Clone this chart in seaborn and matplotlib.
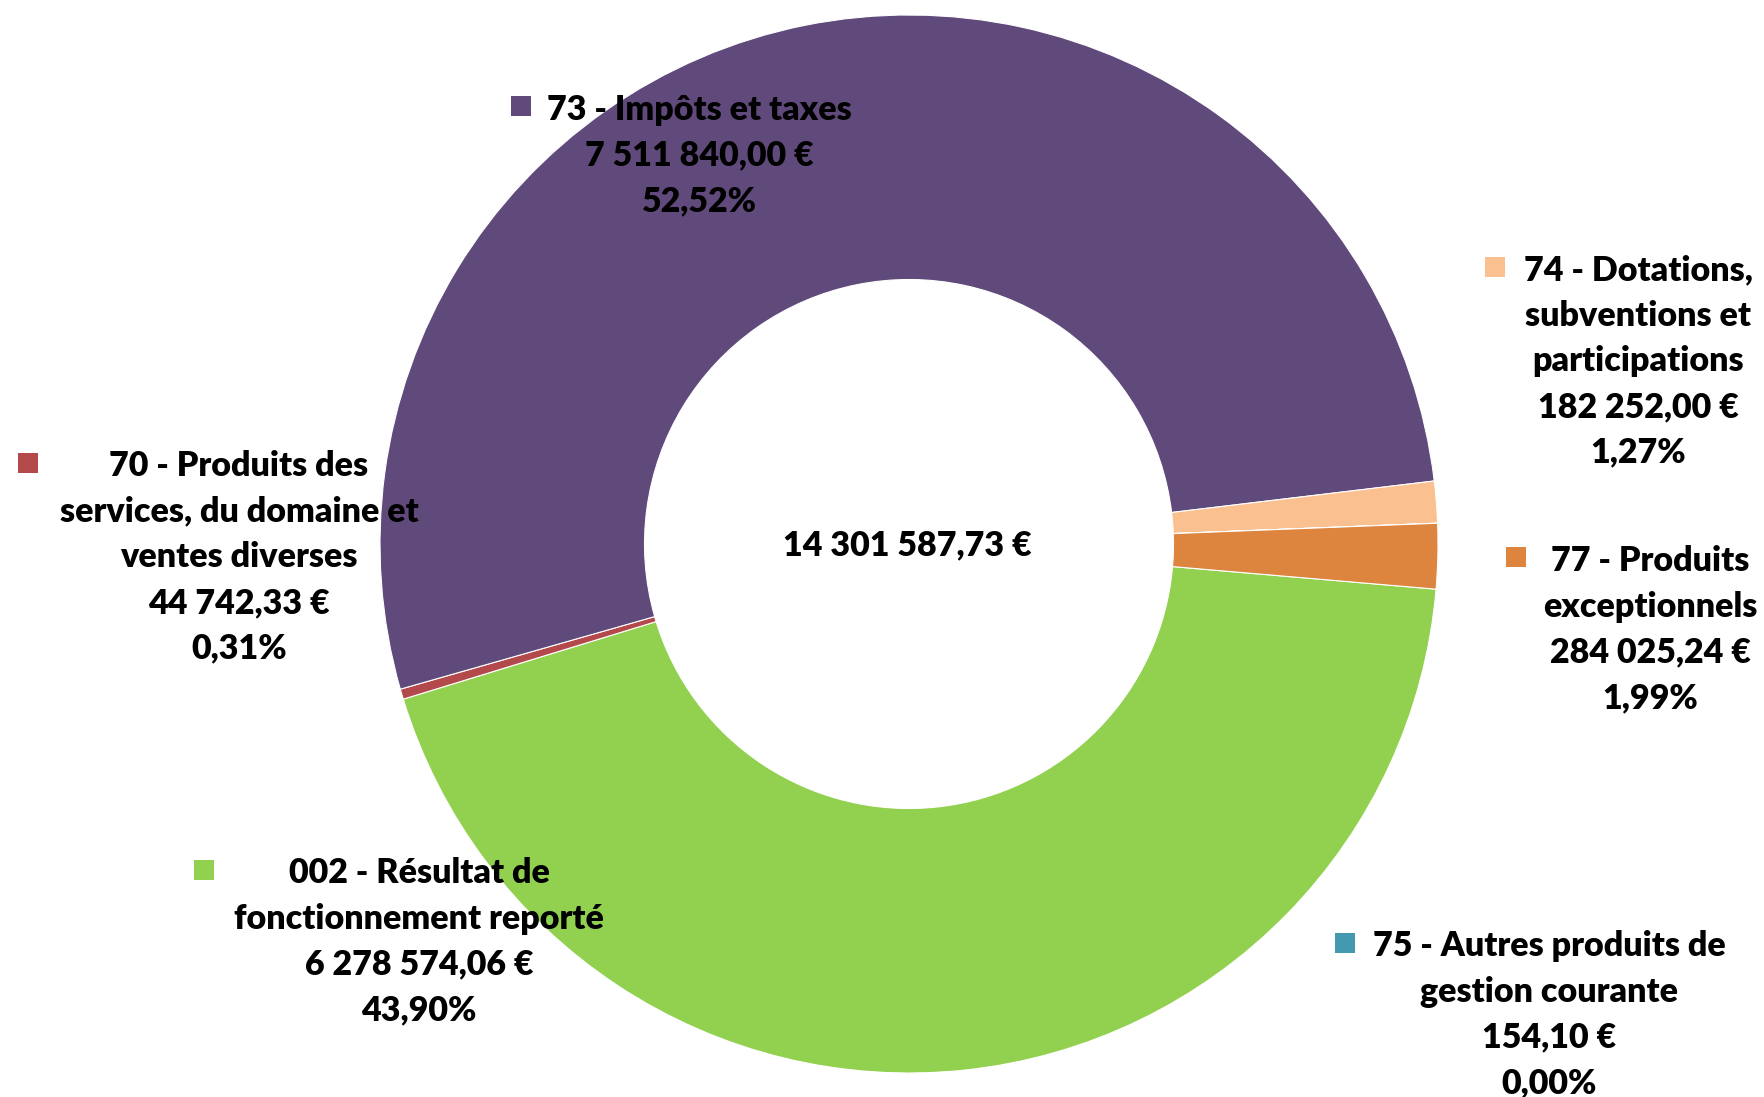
import seaborn as sns
import matplotlib.pyplot as plt

# Données (recettes de fonctionnement)
categories = ["002 - Résultat de\nfonctionnement reporté",
              "70 - Produits des\nservices, du domaine et\nventes diverses",
              "73 - Impôts et taxes",
              "74 - Dotations,\nsubventions et\nparticipations",
              "75 - Autres produits de\ngestion courante",
              "77 - Produits\nexceptionnels"]
montants = [6278574.06, 44742.33, 7511840.00, 182252.00, 154.10, 284025.24]
couleurs = ["#92D050", "#B3494A", "#604A7B", "#FAC090", "#4399B0", "#DD843E"]

# position des étiquettes (centre x, y de la 1re ligne, marqueur x, y) en pixels image
pos_etiquettes = [(419, 873, 204, 870),
                  (239, 466, 28, 463),
                  (699, 110, 521, 106),
                  (1638, 270, 1495, 267),
                  (1549, 946, 1345, 943),
                  (1650, 561, 1516, 557)]

H = 1097
W = 1765


def euros(v):
    return f"{v:,.2f}".replace(",", " ").replace(".", ",") + " €"


sns.set_theme(style="white")
plt.rcParams['font.family'] = ['Lato', 'DejaVu Sans']

fig = plt.figure(figsize=(W / 100, H / 100), dpi=100)
ax = fig.add_axes([0, 0, 1, 1])

total = sum(montants)
ax.pie(montants, colors=couleurs, startangle=-4.9, counterclock=False,
       center=(909, H - 544), radius=529,
       wedgeprops=dict(width=264.5, edgecolor='white', linewidth=0.8))

interligne = 45.7
for cat, v, (cx, cy, mx, my), col in zip(categories, montants, pos_etiquettes, couleurs):
    lignes = cat.split("\n") + [euros(v), f"{100 * v / total:.2f}%".replace(".", ",")]
    for i, l in enumerate(lignes):
        ax.text(cx, H - (cy + i * interligne), l, ha='center', va='center',
                fontsize=24.5, fontweight='heavy', color='black')
    ax.scatter([mx], [H - my], marker='s', s=200, color=col, linewidths=0)

ax.text(907, H - 545, euros(total), ha='center', va='center',
        fontsize=24.5, fontweight='heavy', color='black')

ax.set_xlim(0, W)
ax.set_ylim(0, H)
ax.set_aspect('equal')
ax.axis('off')

plt.savefig('out.png', dpi=100)
